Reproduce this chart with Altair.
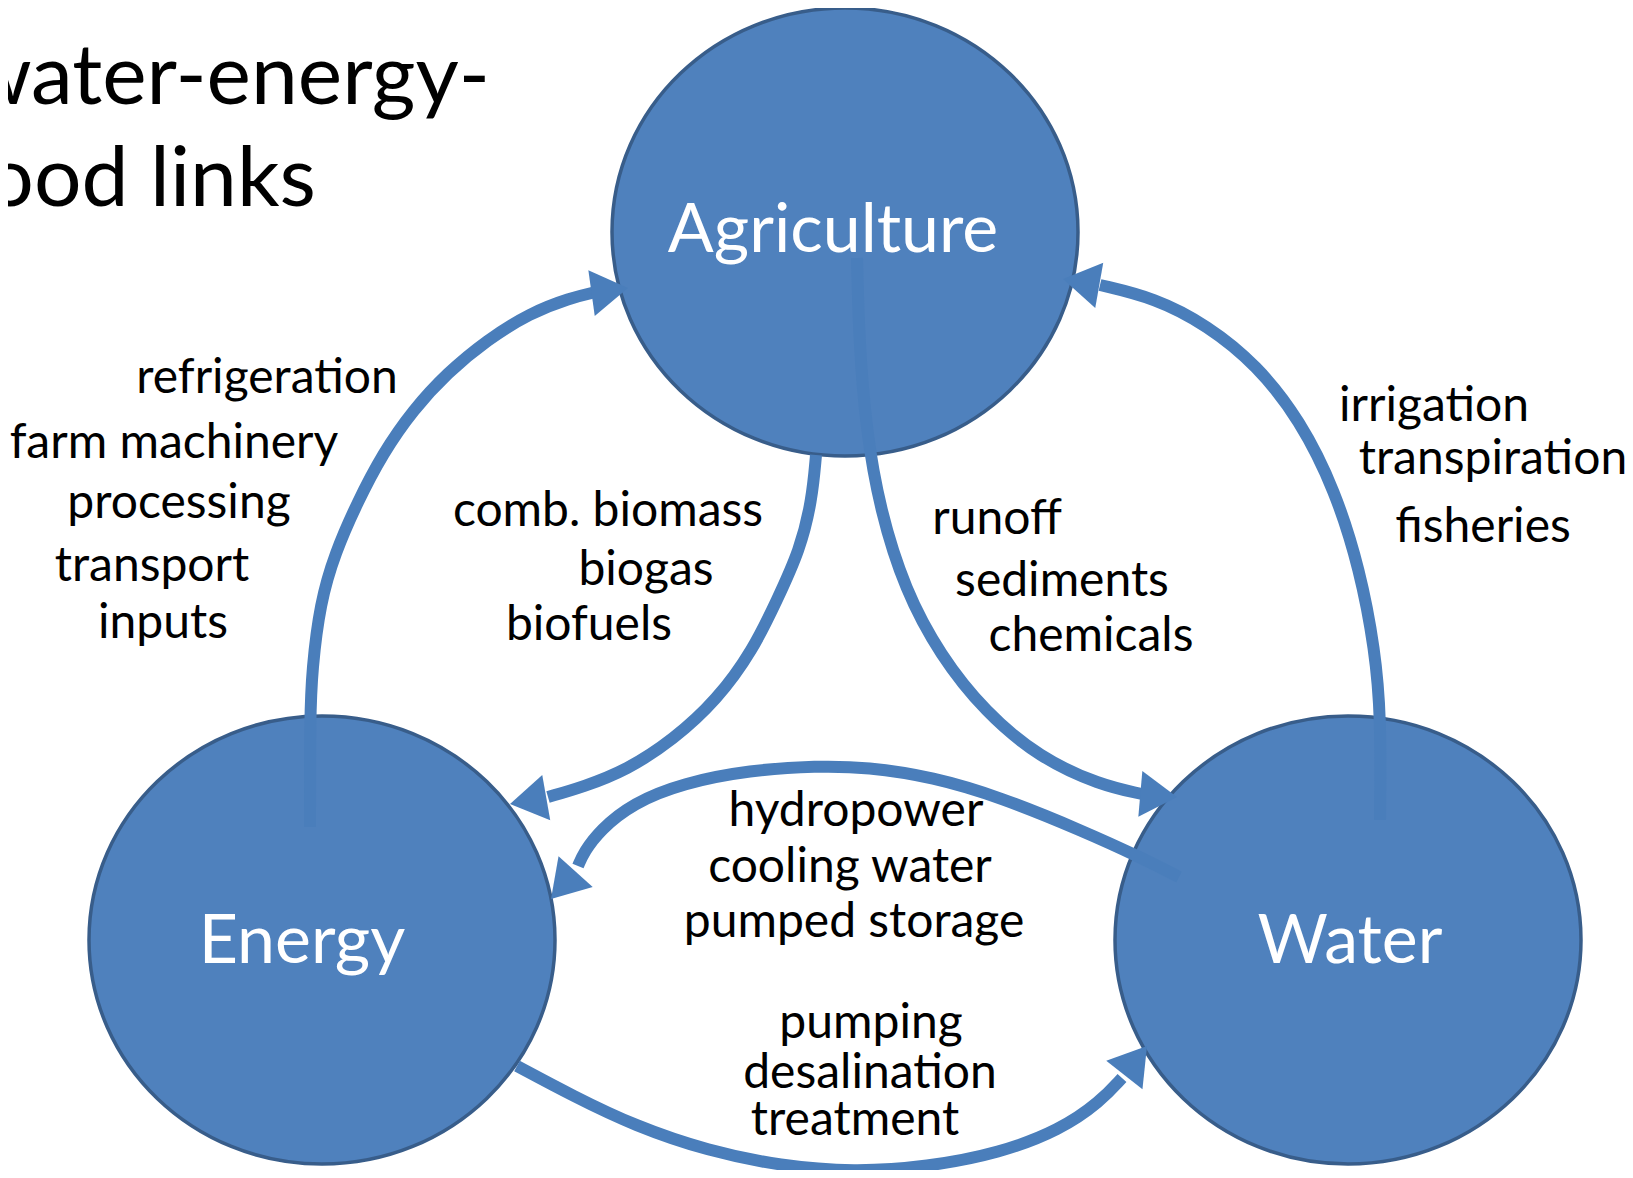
import altair as alt
import pandas as pd

# ---------------- data ----------------
node_names = ["Agriculture", "Energy", "Water"]
node_x = [845, 322, 1348]
node_y = [232, 940, 940]
node_label_x = [833, 302, 1350]
node_label_y = [252, 963, 963]

# curved links (points along each curve)
curve_ids = ["E2A", "A2E", "A2W", "W2A", "W2E", "E2W"]
curve_E2A_x = [310, 310, 312, 320, 335, 357, 383, 413, 447, 487, 530, 570, 596]
curve_E2A_y = [827, 717, 670, 603, 553, 503, 453, 410, 373, 340, 313, 298, 292]
curve_A2E_x = [816, 812, 800, 777, 753, 717, 673, 627, 583, 548]
curve_A2E_y = [455, 500, 550, 600, 650, 700, 740, 770, 787, 797]
curve_A2W_x = [857, 859, 866, 880, 905, 940, 985, 1040, 1100, 1142]
curve_A2W_y = [258, 340, 430, 510, 590, 655, 712, 758, 785, 794]
curve_W2A_x = [1380, 1381, 1375, 1360, 1335, 1300, 1257, 1207, 1155, 1100]
curve_W2A_y = [820, 717, 650, 570, 490, 420, 365, 325, 298, 285]
curve_W2E_x = [1179, 1140, 1083, 1000, 933, 867, 817, 750, 683, 633, 600, 584, 578]
curve_W2E_y = [877, 857, 831, 797, 777, 767, 766, 770, 783, 803, 830, 852, 866]
curve_E2W_x = [517, 573, 635, 708, 781, 854, 927, 1000, 1060, 1100, 1122]
curve_E2W_y = [1066, 1096, 1126, 1151, 1166, 1172, 1167, 1153, 1130, 1102, 1078]

# arrow tips and their heading (degrees clockwise from "up")
arrow_tip_x = [628, 510, 1177, 1063, 551, 1147]
arrow_tip_y = [288, 804, 797, 279, 899, 1046]
arrow_angle = [82, 260, 95, 280, 222, 38]

# link labels
label_text = [
    "refrigeration", "farm machinery", "processing", "transport", "inputs",
    "comb. biomass", "biogas", "biofuels",
    "runoff", "sediments", "chemicals",
    "irrigation", "transpiration", "fisheries",
    "hydropower", "cooling water", "pumped storage",
    "pumping", "desalination", "treatment",
]
label_x = [267, 174, 179, 152, 163,
           608, 646, 589,
           997, 1062, 1091,
           1434, 1493, 1483,
           856, 850, 854,
           871, 870, 855]
label_y = [393, 458, 518, 581, 638,
           526, 585, 640,
           534, 596, 651,
           421, 474, 542,
           826, 882, 937,
           1038, 1088, 1135]

title_lines = ["water-energy-", "food links"]
title_x = [490, 316]
title_y = [104, 206]

# ---------------- styling ----------------
FILL = "#4F81BD"
EDGE = "#385D8A"
LINK = "#4A7EBB"
FONT = "Lato"

xs = alt.Scale(domain=[8, 1625], nice=False, zero=False)
ys = alt.Scale(domain=[8, 1170], nice=False, zero=False, reverse=True)

a = 224 / 233
k = 0.5523
ellipse_path = (
    f"M 1 0 C 1 {a*k:.4f} {k} {a:.4f} 0 {a:.4f} "
    f"C {-k} {a:.4f} -1 {a*k:.4f} -1 0 "
    f"C -1 {-a*k:.4f} {-k} {-a:.4f} 0 {-a:.4f} "
    f"C {k} {-a:.4f} 1 {-a*k:.4f} 1 0 Z"
)
arrow_path = "M 0 0 L 1 1.6 L -1 1.6 Z"

nodes = pd.DataFrame({"name": node_names, "x": node_x, "y": node_y,
                      "lx": node_label_x, "ly": node_label_y})

rows = []
curves = {
    "E2A": (curve_E2A_x, curve_E2A_y),
    "A2E": (curve_A2E_x, curve_A2E_y),
    "A2W": (curve_A2W_x, curve_A2W_y),
    "W2A": (curve_W2A_x, curve_W2A_y),
    "W2E": (curve_W2E_x, curve_W2E_y),
    "E2W": (curve_E2W_x, curve_E2W_y),
}
for cid in curve_ids:
    cx, cy = curves[cid]
    for i, (px, py) in enumerate(zip(cx, cy)):
        rows.append({"curve": cid, "order": i, "x": px, "y": py})
links = pd.DataFrame(rows)

arrows = pd.DataFrame({"x": arrow_tip_x, "y": arrow_tip_y, "angle": arrow_angle})
labels = pd.DataFrame({"text": label_text, "x": label_x, "y": label_y})
titles = pd.DataFrame({"text": title_lines, "x": title_x, "y": title_y})

circles = alt.Chart(nodes).mark_point(
    shape=ellipse_path, size=(2 * 233) ** 2, filled=True, fill=FILL,
    stroke=EDGE, strokeWidth=3.5, opacity=1, fillOpacity=1, strokeOpacity=1,
).encode(
    x=alt.X("x:Q", scale=xs, axis=None),
    y=alt.Y("y:Q", scale=ys, axis=None),
)

link_lines = alt.Chart(links).mark_line(
    color=LINK, strokeWidth=12, interpolate="basis", strokeCap="butt",
).encode(
    x=alt.X("x:Q", scale=xs, axis=None),
    y=alt.Y("y:Q", scale=ys, axis=None),
    detail="curve:N",
    order="order:Q",
)

heads = alt.Chart(arrows).mark_point(
    shape=arrow_path, size=46 ** 2, filled=True, fill=LINK,
    strokeWidth=0, opacity=1, fillOpacity=1,
).encode(
    x=alt.X("x:Q", scale=xs, axis=None),
    y=alt.Y("y:Q", scale=ys, axis=None),
    angle=alt.Angle("angle:Q", scale=None),
)

node_text = alt.Chart(nodes).mark_text(
    font=FONT, fontSize=68, color="white", align="center", baseline="alphabetic",
).encode(
    x=alt.X("lx:Q", scale=xs, axis=None),
    y=alt.Y("ly:Q", scale=ys, axis=None),
    text="name:N",
)

label_text_layer = alt.Chart(labels).mark_text(
    font=FONT, fontSize=48, color="black", align="center", baseline="alphabetic",
).encode(
    x=alt.X("x:Q", scale=xs, axis=None),
    y=alt.Y("y:Q", scale=ys, axis=None),
    text="text:N",
)

title_layer = alt.Chart(titles).mark_text(
    font=FONT, fontSize=84, color="black", align="right", baseline="alphabetic",
).encode(
    x=alt.X("x:Q", scale=xs, axis=None),
    y=alt.Y("y:Q", scale=ys, axis=None),
    text="text:N",
)

chart = alt.layer(
    circles, link_lines, heads, node_text, label_text_layer, title_layer
).properties(
    width=1617, height=1162,
    autosize=alt.AutoSizeParams(type="none"),
    padding=0,
    background="white",
).configure_view(strokeWidth=0)

chart.save("out.html", embed_options={"renderer": "svg", "actions": False})
